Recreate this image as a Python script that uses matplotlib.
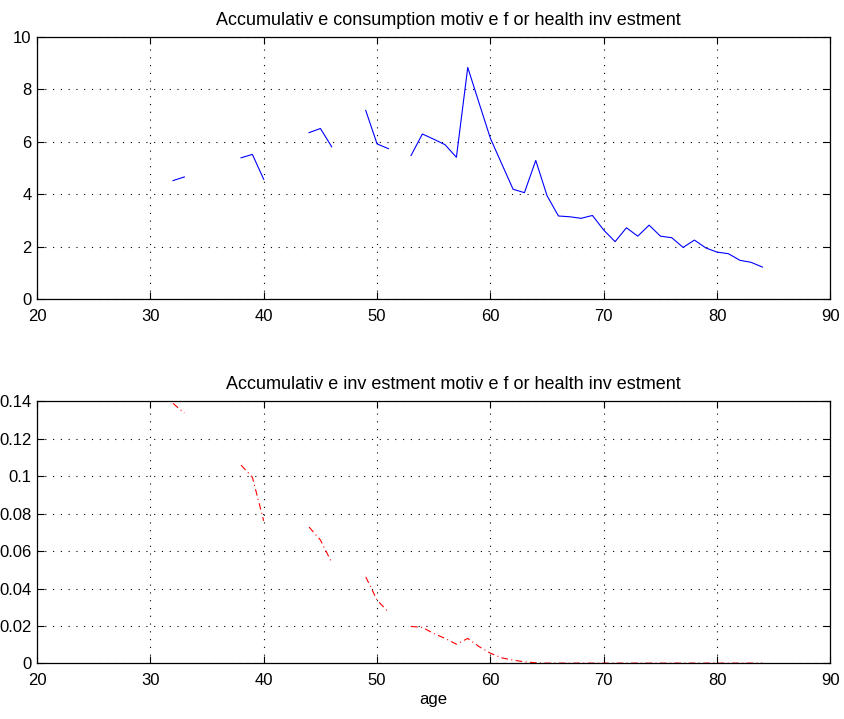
import numpy as np
import matplotlib
matplotlib.use('Agg')
import matplotlib.pyplot as plt

plt.rcParams['font.family'] = ['Liberation Sans', 'DejaVu Sans']
plt.rcParams['font.size'] = 12

nan = np.nan
ages = list(range(32, 85))

# consumption motive (blue), NaN = gap
consumption = [4.52, 4.66, nan, nan, nan, nan, 5.39, 5.52, 4.57, nan,
               nan, nan, 6.35, 6.51, 5.81, nan, nan, 7.20, 5.92, 5.74,
               nan, 5.48, 6.30, 6.10, 5.89, 5.41, 8.84, 7.48, 6.13, 5.16,
               4.19, 4.06, 5.29, 3.94, 3.17, 3.14, 3.08, 3.19, 2.63, 2.19,
               2.72, 2.40, 2.82, 2.40, 2.34, 1.97, 2.25, 1.95, 1.79, 1.73,
               1.48, 1.40, 1.22]

# investment motive (red), NaN = gap
investment = [0.139, 0.1338, nan, nan, nan, nan, 0.106, 0.0995, 0.0762, nan,
              nan, nan, 0.0729, 0.066, 0.054, nan, nan, 0.0463, 0.0339, 0.0274,
              nan, 0.0198, 0.0193, 0.016, 0.0134, 0.0103, 0.0134, 0.009, 0.0055, 0.0030,
              0.0018, 0.0009, 0.0004, 0.0002, 0.0002, 0.0002, 0.0002, 0.0002, 0.0002, 0.0002,
              0.0002, 0.0002, 0.0002, 0.0002, 0.0002, 0.0002, 0.0002, 0.0002, 0.0002, 0.0002,
              0.0002, 0.0002, 0.0002]

xticks = [20, 30, 40, 50, 60, 70, 80, 90]
yticks_top = [0, 2, 4, 6, 8, 10]
yticks_bot = [0, 0.02, 0.04, 0.06, 0.08, 0.1, 0.12, 0.14]
ylabels_bot = ['0', '0.02', '0.04', '0.06', '0.08', '0.1', '0.12', '0.14']

fig = plt.figure(figsize=(8.45, 7.19), dpi=100)
ax1 = fig.add_axes([0.0438, 0.5841, 0.939, 0.3644])
ax2 = fig.add_axes([0.0438, 0.0772, 0.939, 0.3644])


def style(ax):
    ax.set_xlim(20, 90)
    ax.set_xticks(xticks)
    ax.tick_params(direction='in', top=True, right=True, length=5, width=0.8)
    ax.tick_params(axis='x', pad=7)
    ax.tick_params(axis='y', pad=4)
    ax.grid(True, color='black', linestyle=(0, (1, 6)), linewidth=0.8)
    for s in ax.spines.values():
        s.set_linewidth(0.9)


ax1.plot(ages, consumption, color='blue', linewidth=0.8)
style(ax1)
ax1.set_ylim(0, 10)
ax1.set_yticks(yticks_top)
ax1.set_title('Accumulativ e consumption motiv e f or health inv estment',
              fontsize=13, pad=9, x=0.518)

ax2.plot(ages, investment, color='red', linewidth=0.8, linestyle=(0, (6, 3, 1, 3)))
style(ax2)
ax2.set_ylim(0, 0.14)
ax2.set_yticks(yticks_bot)
ax2.set_yticklabels(ylabels_bot)
ax2.set_title('Accumulativ e inv estment motiv e f or health inv estment',
              fontsize=13, pad=9, x=0.525)
ax2.set_xlabel('age', fontsize=12, labelpad=3)

fig.savefig('out.png', dpi=100)
